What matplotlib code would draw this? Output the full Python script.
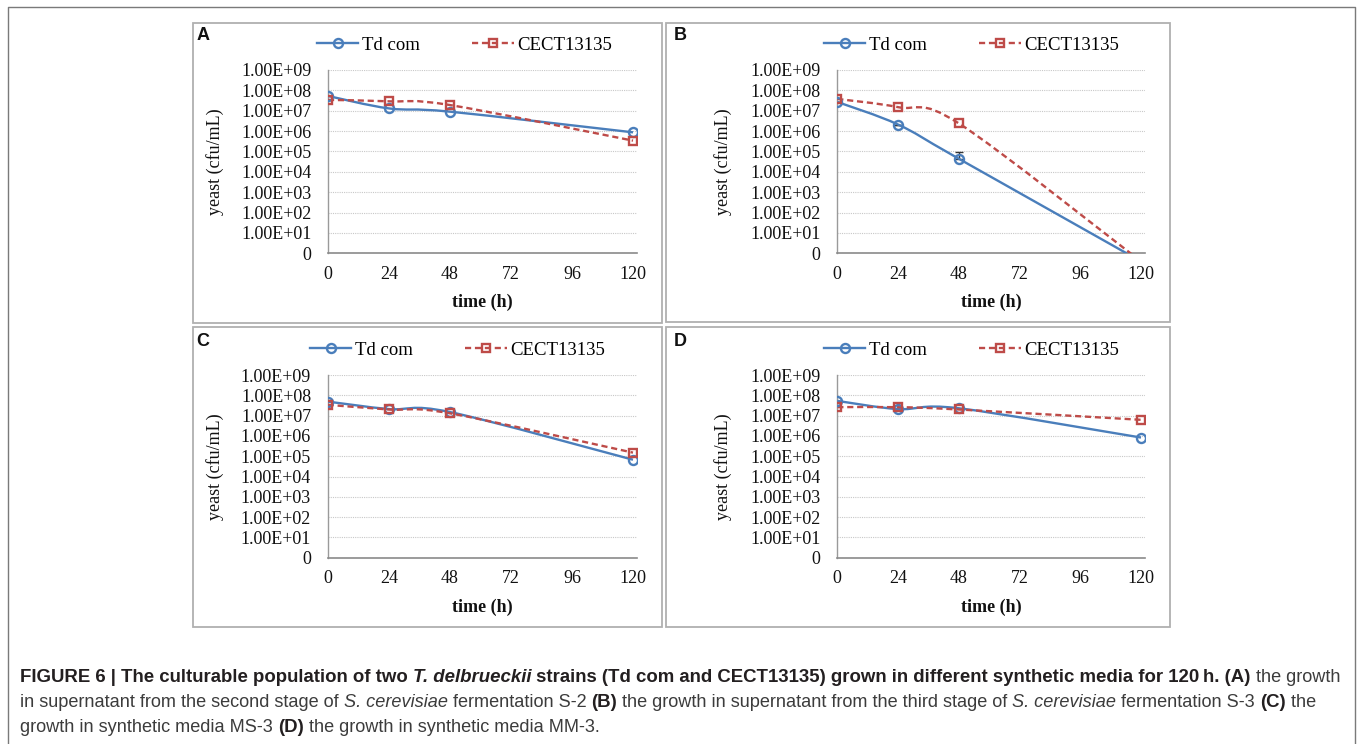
import numpy as np
import matplotlib
matplotlib.use("Agg")
import matplotlib.pyplot as plt
from matplotlib.path import Path
from matplotlib.patches import PathPatch, Rectangle
from matplotlib.lines import Line2D
from matplotlib.ticker import NullLocator

# ---------------- data ----------------
time_h = [0, 24, 48, 120]
x_ticks = [0, 24, 48, 72, 96, 120]
y_ticks = [1e0, 1e1, 1e2, 1e3, 1e4, 1e5, 1e6, 1e7, 1e8, 1e9]
y_tick_labels = ["0", "1.00E+01", "1.00E+02", "1.00E+03", "1.00E+04",
                 "1.00E+05", "1.00E+06", "1.00E+07", "1.00E+08", "1.00E+09"]
series_names = ["Td com", "CECT13135"]

A_tdcom = [5.3e7, 1.3e7, 9.0e6, 8.7e5]
A_cect = [3.4e7, 2.9e7, 1.9e7, 3.4e5]
B_tdcom = [2.7e7, 2.1e6, 4.4e4, 0.4]
B_cect = [3.8e7, 1.5e7, 2.4e6, 0.4]
B_tdcom_err = [0, 0, 5.5e4, 0]
C_tdcom = [4.9e7, 2.1e7, 1.5e7, 6.7e4]
C_cect = [3.4e7, 2.0e7, 1.3e7, 1.5e5]
D_tdcom = [5.3e7, 2.1e7, 2.3e7, 8.3e5]
D_cect = [2.6e7, 2.6e7, 2.0e7, 6.2e6]

# ---------------- layout helpers ----------------
W, H = 1357, 744
fig = plt.figure(figsize=(W / 100, H / 100), dpi=100)
fig.patch.set_facecolor("white")


def fx(x):
    return x / W


def fy(y):
    return 1 - y / H


BLUE = "#4a7ebb"
RED = "#be4b48"
SERIF = "Liberation Serif"
SANS = "Liberation Sans"

# outer frame
fig.add_artist(Line2D([fx(8), fx(8), fx(1354.5), fx(1354.5)],
                      [fy(750), fy(6.5), fy(6.5), fy(750)],
                      color="#7a7a7a", lw=1.0, transform=fig.transFigure))


def smooth_path(x, y):
    lx = np.asarray(x, float)
    ly = np.log10(np.asarray(y, float))
    pts = np.column_stack([lx, ly])
    n = len(pts)
    verts = [pts[0]]
    codes = [Path.MOVETO]
    for i in range(n - 1):
        p0 = pts[max(i - 1, 0)]
        p1 = pts[i]
        p2 = pts[i + 1]
        p3 = pts[min(i + 2, n - 1)]
        c1 = p1 + (p2 - p0) / 6.0
        c2 = p2 - (p3 - p1) / 6.0
        verts += [c1, c2, p2]
        codes += [Path.CURVE4] * 3
    verts = np.array(verts)
    verts[:, 1] = 10 ** verts[:, 1]
    return Path(verts, codes)


panels = [
    dict(letter="A", td=A_tdcom, ce=A_cect, err=None,
         box=(193, 23, 662, 323), ax=(328, 70, 637, 253.3),
         ylab_x=215, let=(203, 36), leg=(317, 45)),
    dict(letter="B", td=B_tdcom, ce=B_cect, err=B_tdcom_err,
         box=(666, 23, 1170, 322), ax=(837.3, 70, 1145, 253.3),
         ylab_x=723.3, let=(680, 36), leg=(824, 45)),
    dict(letter="C", td=C_tdcom, ce=C_cect, err=None,
         box=(193, 327, 662, 627), ax=(327.7, 375, 637, 557.7),
         ylab_x=215, let=(203, 342), leg=(310, 350)),
    dict(letter="D", td=D_tdcom, ce=D_cect, err=None,
         box=(666, 327, 1170, 627), ax=(837.3, 375, 1145, 557.7),
         ylab_x=723.3, let=(680, 342), leg=(824, 350)),
]

for p in panels:
    bx0, by0, bx1, by1 = p["box"]
    fig.add_artist(Rectangle((fx(bx0), fy(by1)), (bx1 - bx0) / W, (by1 - by0) / H,
                             transform=fig.transFigure, fill=False,
                             edgecolor="#b0b0b0", lw=1.3))
    fig.text(fx(p["let"][0]), fy(p["let"][1]), p["letter"], ha="center", va="center",
             fontsize=13, fontweight="bold", family=SANS, color="#111111")

    x0, y0, x1, y1 = p["ax"]
    ax = fig.add_axes([fx(x0), fy(y1), (x1 - x0) / W, (y1 - y0) / H])
    ax.set_yscale("log")
    ax.set_ylim(1, 1e9)
    xmax = 120 * (x1 - x0) / (x1 - x0 - 4)
    ax.set_xlim(0, xmax)
    ax.set_yticks(y_ticks)
    ax.set_yticklabels(y_tick_labels)
    ax.yaxis.set_minor_locator(NullLocator())
    ax.set_xticks(x_ticks)
    ax.set_xticklabels([str(t) for t in x_ticks])
    ax.tick_params(axis="both", length=0, labelsize=13, labelcolor="#111111")
    ax.tick_params(axis="y", pad=12)
    ax.tick_params(axis="x", pad=9)
    for lab in ax.get_xticklabels() + ax.get_yticklabels():
        lab.set_family(SERIF)
    for s in ["top", "right"]:
        ax.spines[s].set_visible(False)
    ax.spines["left"].set_color("#9a9a9a")
    ax.spines["bottom"].set_color("#8a8a8a")
    ax.spines["left"].set_linewidth(1.0)
    ax.spines["bottom"].set_linewidth(1.2)
    ax.grid(axis="y", which="major", linestyle=(0, (1, 1)), color="#c8c8c8", lw=0.8)
    ax.set_axisbelow(True)
    ax.set_facecolor("none")

    # lines (smoothed like the original spreadsheet chart)
    ax.add_patch(PathPatch(smooth_path(time_h, p["td"]), fill=False,
                           edgecolor=BLUE, lw=1.7, zorder=3))
    ax.add_patch(PathPatch(smooth_path(time_h, p["ce"]), fill=False,
                           edgecolor=RED, lw=1.7, linestyle=(0, (2.6, 1.6)), zorder=3))
    if p["err"] is not None:
        err = np.asarray(p["err"], float)
        ax.errorbar(time_h, p["td"], yerr=[np.zeros_like(err), err], fmt="none",
                    ecolor="#333333", elinewidth=1.0, capsize=3, capthick=1.0, zorder=2)
    ax.plot(time_h, p["td"], linestyle="none", marker="o", markersize=6.5,
            markerfacecolor="none", markeredgecolor=BLUE, markeredgewidth=1.7, zorder=4)
    ax.plot(time_h, p["ce"], linestyle="none", marker="s", markersize=6,
            markerfacecolor="none", markeredgecolor=RED, markeredgewidth=1.7, zorder=4)

    ax.set_xlabel("time (h)", fontsize=13, fontweight="bold", family=SERIF,
                  color="#111111", va="center")
    ax.xaxis.set_label_coords(0.5, -49.4 / (y1 - y0))
    ax.set_ylabel("yeast (cfu/mL)", fontsize=13, family=SERIF, color="#111111",
                  va="center")
    ax.yaxis.set_label_coords(-(x0 - p["ylab_x"]) / (x1 - x0), 0.5)

    handles = [
        Line2D([], [], color=BLUE, lw=1.7, marker="o", markersize=6.5,
               markerfacecolor="none", markeredgecolor=BLUE, markeredgewidth=1.7),
        Line2D([], [], color=RED, lw=1.7, linestyle=(0, (2.6, 1.6)), marker="s",
               markersize=6, markerfacecolor="none", markeredgecolor=RED,
               markeredgewidth=1.7),
    ]
    ax.legend(handles, series_names, loc="center left",
              bbox_to_anchor=(fx(p["leg"][0]), fy(p["leg"][1])),
              bbox_transform=fig.transFigure, ncol=2, frameon=False,
              borderpad=0, borderaxespad=0, handlelength=2.2, handletextpad=0.2,
              columnspacing=2.8, prop={"family": SERIF, "size": 13.5})

# ---------------- caption ----------------
cax = fig.add_axes([0, 0, 1, 1])
cax.axis("off")
cax.set_zorder(-1)

DARK = "#231f20"
GREY = "#3c3c3c"
styles = {
    "b": dict(fontweight="bold", color=DARK, fontsize=13.4),
    "bi": dict(fontweight="bold", fontstyle="italic", color=DARK, fontsize=13.4),
    "r": dict(color=GREY, fontsize=13.1),
    "i": dict(fontstyle="italic", color=GREY, fontsize=13.1),
}

caption_lines = [
    [("FIGURE 6 | The culturable population of two ", "b"), ("T. delbrueckii", "bi"),
     (" strains (Td com and CECT13135) grown in different synthetic media for 120\u2009h. (A)", "b"),
     (" the growth", "r")],
    [("in supernatant from the second stage of ", "r"), ("S. cerevisiae", "i"),
     (" fermentation S-2 ", "r"), ("(B)", "b"),
     (" the growth in supernatant from the third stage of ", "r"), ("S. cerevisiae", "i"),
     (" fermentation S-3 ", "r"), ("(C)", "b"), (" the", "r")],
    [("growth in synthetic media MS-3 ", "r"), ("(D)", "b"),
     (" the growth in synthetic media MM-3.", "r")],
]
line_y = [678, 702.5, 727]

for segs, yy in zip(caption_lines, line_y):
    prev = None
    for txt, st in segs:
        kw = dict(family=[SANS, "DejaVu Sans"], **styles[st])
        if prev is None:
            prev = cax.text(fx(20), fy(yy), txt, transform=fig.transFigure,
                            ha="left", va="center", **kw)
        else:
            prev = cax.annotate(txt, xy=(1, 0.5), xycoords=prev, xytext=(0, 0),
                                textcoords="offset points", ha="left", va="center", **kw)

fig.savefig("out.png", dpi=100)
